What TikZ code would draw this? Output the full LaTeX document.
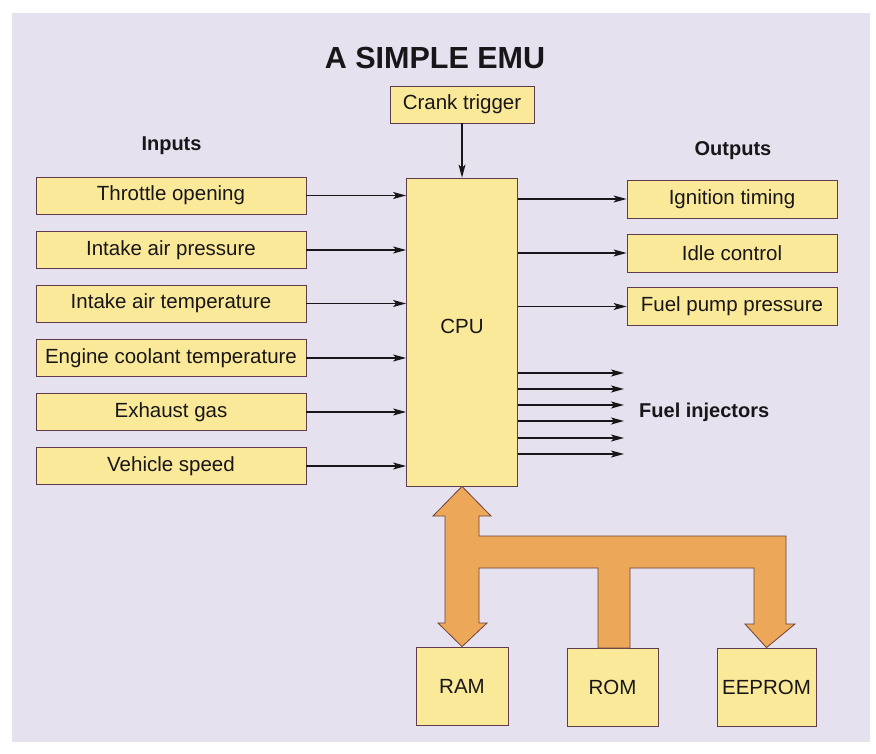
\documentclass[tikz,border=0pt]{standalone}
\usepackage{fontspec}
\setmainfont{Liberation Sans}
\usetikzlibrary{arrows.meta}
\definecolor{bgcol}{RGB}{229,225,238}
\definecolor{boxfill}{RGB}{250,233,152}
\definecolor{boxline}{RGB}{95,60,75}
\definecolor{busfill}{RGB}{236,168,88}
\definecolor{busline}{RGB}{110,65,60}
\definecolor{txt}{RGB}{25,22,25}
\tikzset{
  box/.style={draw=boxline, fill=boxfill, line width=0.8pt, inner sep=0pt, text=txt,
    font=\fontsize{20.5}{24}\selectfont},
  inbox/.style={box, minimum width=270pt, minimum height=37pt},
  outbox/.style={box, minimum width=210pt, minimum height=38pt},
  membox/.style={box, minimum height=78pt},
  arr/.style={draw=txt, line width=1.2pt, -{Stealth[length=13pt,width=7pt,inset=3pt]}},
  heading/.style={text=txt, font=\bfseries\fontsize{20}{24}\selectfont, anchor=base, inner sep=0pt},
}
\begin{document}
\begin{tikzpicture}[x=1pt,y=-1pt]
\useasboundingbox (0,0) rectangle (876,754);
\fill[white] (0,0) rectangle (876,754);
\fill[bgcol] (12,13) rectangle (870,742);

% title and headings
\node[heading, font=\bfseries\fontsize{30.5}{34}\selectfont] (title) at (435,69) {A SIMPLE EMU};
\node[heading] (inputs) at (171.5,151) {Inputs};
\node[heading] (outputs) at (733,156) {Outputs};

% CPU and crank trigger
\node[box, minimum width=111pt, minimum height=308pt] (cpu) at (462,332) {};
\node[text=txt, font=\fontsize{20.5}{24}\selectfont, inner sep=0pt] (cpulabel) at (462,326) {CPU};
\node[box, minimum width=144pt, minimum height=37pt] (crank) at (462,104.5) {Crank trigger};
\draw[arr] (crank.south) -- (crank.south |- cpu.north);

% inputs
\node[inbox] (in1) at (171,195.5) {Throttle opening};
\node[inbox] (in2) at (171,250) {Intake air pressure};
\node[inbox] (in3) at (171,303.5) {Intake air temperature};
\node[inbox] (in4) at (171,358) {Engine coolant temperature};
\node[inbox] (in5) at (171,412) {Exhaust gas};
\node[inbox] (in6) at (171,466) {Vehicle speed};
\foreach \i in {1,...,6}{
  \draw[arr] (in\i.east) -- (in\i.east -| cpu.west);
}

% outputs
\node[outbox] (out1) at (732,199) {Ignition timing};
\node[outbox] (out2) at (732,253) {Idle control};
\node[outbox] (out3) at (732,306.5) {Fuel pump pressure};
\foreach \i in {1,2,3}{
  \draw[arr] (out\i.west -| cpu.east) -- (out\i.west);
}

% fuel injectors
\foreach \i/\y in {1/373,2/389,3/405,4/421,5/438,6/454}{
  \coordinate (fi\i) at (624,\y);
  \draw[arr] (fi\i -| cpu.east) -- (fi\i);
}
\node[heading, anchor=west] (fuelinj) at (639,412) {Fuel injectors};

% memory
\node[membox, minimum width=92pt] (ram) at (462,686) {RAM};
\node[membox, minimum width=91pt] (rom) at (612.5,687) {ROM};
\node[membox, minimum width=99pt] (eeprom) at (766.5,687) {EEPROM};

% bus
\filldraw[fill=busfill, draw=busline, line width=0.8pt, line join=miter]
  (cpu.south) -- (491,516) -- (479,516) -- (479,536) -- (786,536) -- (786,624)
  -- (795,624) -- (eeprom.north) -- (745,624) -- (754,624) -- (754,568)
  -- (630,568) -- (630,648) -- (598,648) -- (598,568) -- (479,568)
  -- (479,623) -- (487,623) -- (ram.north) -- (438,623) -- (445,623)
  -- (445,516) -- (433,516) -- cycle;
\end{tikzpicture}
\end{document}
